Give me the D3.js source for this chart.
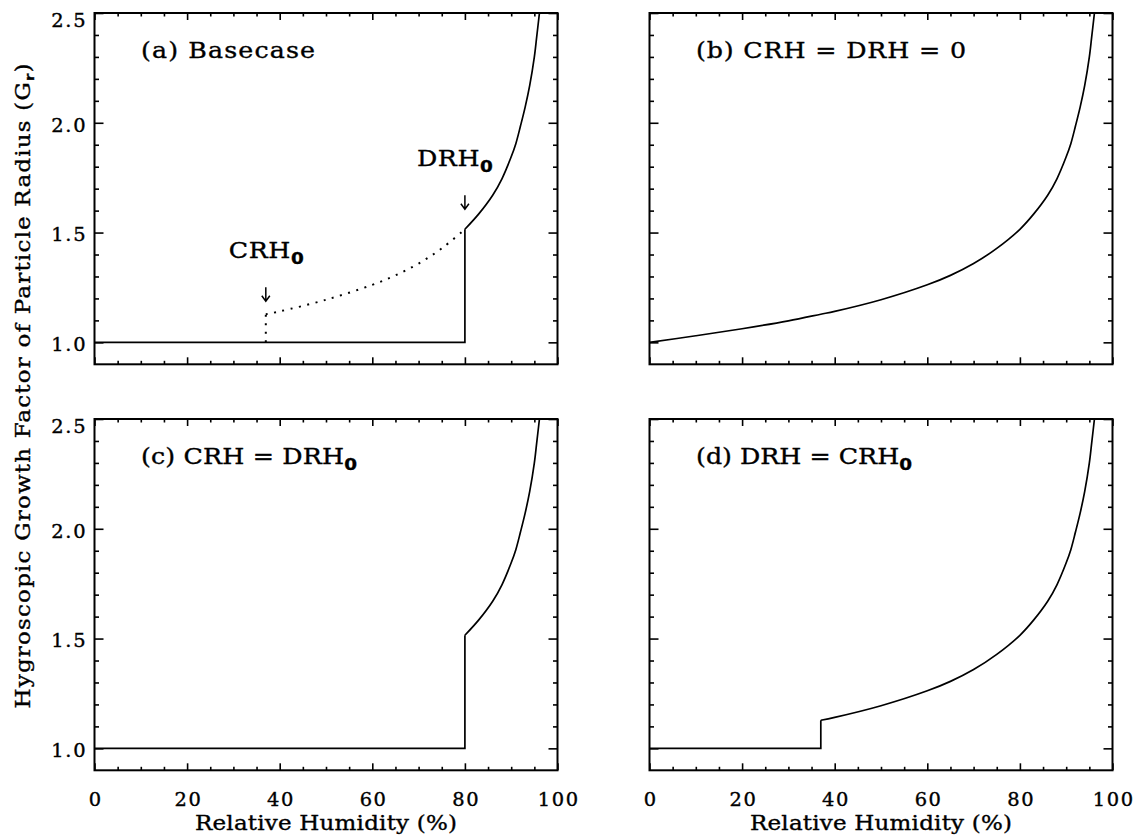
<!DOCTYPE html>
<html>
<head>
<meta charset="utf-8">
<script src="https://cdn.jsdelivr.net/npm/d3@7"></script>
<style>
  body { margin: 0; background: #fff; }
  svg { display: block; }
  text { fill: #000; stroke: #000; stroke-width: 0.35px; }
</style>
</head>
<body>
<svg id="chart" width="1135" height="838"></svg>
<script>
// Hygroscopic growth factor of particle radius versus relative humidity (%)
const rhPoints = [0, 10, 20, 30, 37, 40, 50, 60, 65, 70, 75, 80, 83, 86, 88, 90, 91, 92, 93, 94, 95, 95.5, 96.1];
const growthFactor = [1.000, 1.030, 1.062, 1.098, 1.128, 1.141, 1.194, 1.262, 1.305, 1.359, 1.428, 1.515, 1.585, 1.670, 1.745, 1.845, 1.905, 1.985, 2.070, 2.170, 2.300, 2.390, 2.500];
const dryFactor = 1.0;
const crh0 = 37;   // crystallization RH
const drh0 = 80;   // deliquescence RH

const panelTitles = [["(a) Basecase", ""], ["(b) CRH = DRH = 0", ""], ["(c) CRH = DRH", "0"], ["(d) DRH = CRH", "0"]];
const xMajorTicks = [0, 20, 40, 60, 80, 100];
const xMinorTicks = [5, 10, 15, 25, 30, 35, 45, 50, 55, 65, 70, 75, 85, 90, 95];
const yMajorTicks = [1.0, 1.5, 2.0, 2.5];
const yMinorTicks = [1.1, 1.2, 1.3, 1.4, 1.6, 1.7, 1.8, 1.9, 2.1, 2.2, 2.3, 2.4];
const xDomain = [0, 100];
const yDomain = [0.9, 2.5];
const xTitle = "Relative Humidity (%)";
const yTitle = ["Hygroscopic Growth Factor of Particle Radius (G", "r", ")"];

const svg = d3.select("#chart");
const serif = "'DejaVu Serif', serif";
const subFont = "'DejaVu Sans', sans-serif";
const stretch = 1.15;   // wide lettering

const colX = [94.5, 649.5], rowY = [13, 419];
const pw = 463, ph = 351.3;

const curve = rhPoints.map((r, i) => [r, growthFactor[i]]);
const gAt = r => growthFactor[rhPoints.indexOf(r)];
const curveRange = (lo, hi) => curve.filter(p => p[0] >= lo && p[0] <= hi);

// spread glyphs so the text covers a given width
function fitSpacing(text, width) {
  const node = text.node();
  text.style("letter-spacing", "0px");
  const w0 = node.getComputedTextLength();
  const n = node.getNumberOfChars();
  text.style("letter-spacing", ((width - w0) / (n - 1)) + "px");
}

// text starting at (x, y), horizontally stretched, spanning `width` px
function addLabel(parent, x, y, parts, size, width, rotate) {
  const g = parent.append("g")
    .attr("transform", `translate(${x},${y})${rotate ? " rotate(-90)" : ""} scale(${stretch},1)`);
  const t = g.append("text").attr("font-family", serif).attr("font-size", size);
  t.append("tspan").text(parts[0]);
  if (parts[1]) {
    t.append("tspan").attr("dy", parts.subDy || 6).attr("font-family", subFont)
      .attr("font-weight", "bold").attr("font-size", parts.subSize || 16).text(parts[1]);
  }
  if (parts[2]) t.append("tspan").attr("dy", -(parts.subDy || 6)).text(parts[2]);
  fitSpacing(t, width / stretch);
  return g;
}

// which pieces of the growth curve each panel draws
function panelSeries(id) {
  const step = (at) => [[xDomain[0], dryFactor], [at, dryFactor], [at, gAt(at)]];
  if (id === 0) return {
    solid: [{pts: step(drh0), smooth: false}, {pts: curveRange(drh0, 100), smooth: true}],
    dotted: [{pts: [[crh0, dryFactor], [crh0, gAt(crh0)]], smooth: false}, {pts: curveRange(crh0, drh0), smooth: true}]
  };
  if (id === 1) return { solid: [{pts: curveRange(0, 100), smooth: true}], dotted: [] };
  if (id === 2) return { solid: [{pts: step(drh0), smooth: false}, {pts: curveRange(drh0, 100), smooth: true}], dotted: [] };
  return { solid: [{pts: step(crh0), smooth: false}, {pts: curveRange(crh0, 100), smooth: true}], dotted: [] };
}

const tickStretch = 1.08;
function styleTickText(sel) {
  sel.attr("font-family", serif).attr("font-size", 18)
    .style("letter-spacing", "1.5px")
    .each(function() {
      const t = d3.select(this);
      const x0 = +t.attr("x") || 0;
      t.attr("x", x0 / tickStretch).attr("transform", `scale(${tickStretch},1)`);
    });
}

for (let i = 0; i < 4; i++) {
  const col = i % 2, row = Math.floor(i / 2);
  const left = colX[col], top = rowY[row];
  const x = d3.scaleLinear().domain(xDomain).range([left, left + pw]);
  const y = d3.scaleLinear().domain(yDomain).range([top + ph, top]);
  const g = svg.append("g");

  const clipId = "clip" + i;
  svg.append("clipPath").attr("id", clipId).append("rect")
    .attr("x", left).attr("y", top).attr("width", pw).attr("height", ph);

  const lineLin = d3.line().x(d => x(d[0])).y(d => y(d[1]));
  const lineSmooth = d3.line().x(d => x(d[0])).y(d => y(d[1])).curve(d3.curveCatmullRom.alpha(0.5));
  const series = panelSeries(i);
  const lines = g.append("g").attr("clip-path", `url(#${clipId})`);
  series.solid.forEach(s => lines.append("path")
    .attr("d", (s.smooth ? lineSmooth : lineLin)(s.pts))
    .attr("fill", "none").attr("stroke", "#000").attr("stroke-width", 1.7));
  series.dotted.forEach(s => lines.append("path")
    .attr("d", (s.smooth ? lineSmooth : lineLin)(s.pts))
    .attr("fill", "none").attr("stroke", "#000").attr("stroke-width", 2)
    .attr("stroke-dasharray", "2 6.5"));

  // axes on all four sides, ticks pointing inward
  const showX = row === 1, showY = col === 0;
  const axisStyle = sel => {
    sel.select(".domain").remove();
    sel.selectAll(".tick line").attr("stroke", "#000").attr("stroke-width", 1.6);
  };
  const bottom = g.append("g").attr("transform", `translate(0,${top + ph})`)
    .call(d3.axisBottom(x).tickValues(xMajorTicks).tickSize(-7)
      .tickFormat(showX ? d3.format("d") : () => ""));
  bottom.call(axisStyle);
  bottom.selectAll("text").attr("dy", null).attr("y", 36).attr("dx", 0.75).call(styleTickText);
  g.append("g").attr("transform", `translate(0,${top + ph})`)
    .call(d3.axisBottom(x).tickValues(xMinorTicks).tickSize(-3.5).tickFormat(() => "")).call(axisStyle);
  g.append("g").attr("transform", `translate(0,${top})`)
    .call(d3.axisTop(x).tickValues(xMajorTicks).tickSize(-7).tickFormat(() => "")).call(axisStyle);
  g.append("g").attr("transform", `translate(0,${top})`)
    .call(d3.axisTop(x).tickValues(xMinorTicks).tickSize(-3.5).tickFormat(() => "")).call(axisStyle);

  const leftAx = g.append("g").attr("transform", `translate(${left},0)`)
    .call(d3.axisLeft(y).tickValues(yMajorTicks).tickSize(-9).tickPadding(9)
      .tickFormat(showY ? d3.format(".1f") : () => ""));
  leftAx.call(axisStyle);
  leftAx.selectAll("text").attr("dy", null).attr("dx", 1.5)
    .attr("y", d => d === yDomain[1] ? 13.7 : 8.4).call(styleTickText);
  g.append("g").attr("transform", `translate(${left},0)`)
    .call(d3.axisLeft(y).tickValues(yMinorTicks).tickSize(-4.5).tickFormat(() => "")).call(axisStyle);
  g.append("g").attr("transform", `translate(${left + pw},0)`)
    .call(d3.axisRight(y).tickValues(yMajorTicks).tickSize(-9).tickFormat(() => "")).call(axisStyle);
  g.append("g").attr("transform", `translate(${left + pw},0)`)
    .call(d3.axisRight(y).tickValues(yMinorTicks).tickSize(-4.5).tickFormat(() => "")).call(axisStyle);

  g.append("rect").attr("x", left).attr("y", top).attr("width", pw).attr("height", ph)
    .attr("fill", "none").attr("stroke", "#000").attr("stroke-width", 2);

  // panel label
  const titleWidths = [174, 270, 216, 216];
  addLabel(g, left + 46.5, top + 44.5, panelTitles[i], 22, titleWidths[i]);

  // x-axis title under the bottom row
  if (showX) addLabel(g, left + pw / 2 - 131, top + ph + 60, [xTitle], 20, 262);

  // CRH0 / DRH0 markers in the base case
  if (i === 0) {
    const marks = [
      {label: "CRH", rh: crh0, gap: 13, dx: -37, width: 75},
      {label: "DRH", rh: drh0, gap: 20, dx: -48, width: 76}
    ];
    marks.forEach(m => {
      const ax = x(m.rh), tip = y(gAt(m.rh)) - m.gap;
      g.append("path")
        .attr("d", `M${ax},${tip - 14}V${tip}M${ax - 4},${tip - 5.5}L${ax},${tip}L${ax + 4},${tip - 5.5}`)
        .attr("fill", "none").attr("stroke", "#000").attr("stroke-width", 1.5);
      addLabel(g, ax + m.dx, tip - 43, [m.label, "0"], 22, m.width);
    });
  }
}

// shared y-axis title
const yParts = [yTitle[0], yTitle[1], yTitle[2]];
yParts.subDy = 4; yParts.subSize = 13;
addLabel(svg, 29.5, 386 + 322.5, yParts, 20, 645, true);
</script>
</body>
</html>
